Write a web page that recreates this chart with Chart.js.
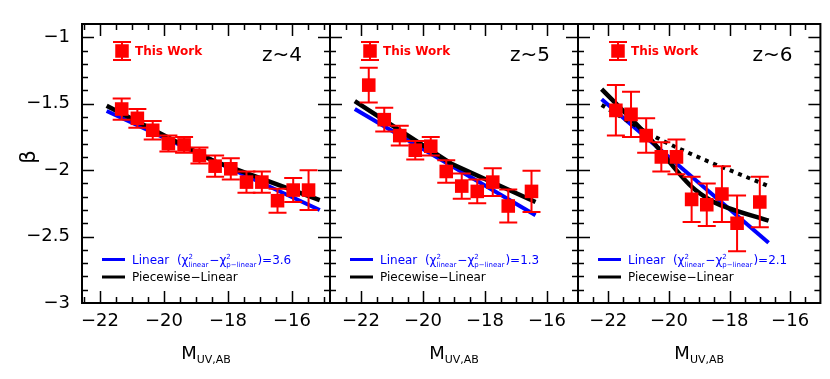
<!DOCTYPE html>
<html>
<head>
<meta charset="utf-8">
<script src="https://cdn.jsdelivr.net/npm/chart.js@4.4.1/dist/chart.umd.min.js"></script>
<style>
html,body{margin:0;padding:0;background:#ffffff;overflow:hidden;}
#wrap{position:relative;width:830px;height:379px;background:#ffffff;}
#wrap canvas{position:absolute;left:0;top:0;width:830px;height:379px;}
</style>
</head>
<body>
<div id="wrap">
<canvas id="p0" width="830" height="379"></canvas>
<canvas id="p1" width="830" height="379"></canvas>
<canvas id="p2" width="830" height="379"></canvas>
</div>
<script>
// ---------- data ----------
const panelLabels = ['z~4', 'z~5', 'z~6'];
const chi2Diff = ['3.6', '1.3', '2.1'];
const xTickLabels = [-22, -20, -18, -16];
const yTickLabels = [-3, -2.5, -2, -1.5, -1];
const xMin = [-22.56, -23, -23];
const xMax = [-14.81, -15, -15];

const z4_M    = [-21.32,-20.83,-20.35,-19.86,-19.37,-18.89,-18.40,-17.91,-17.42,-16.94,-16.45,-15.96,-15.48];
const z4_beta = [-1.54,-1.61,-1.70,-1.80,-1.81,-1.89,-1.97,-1.99,-2.09,-2.09,-2.23,-2.15,-2.15];
const z4_err  = [0.08,0.07,0.07,0.06,0.06,0.06,0.08,0.08,0.08,0.08,0.09,0.09,0.15];

const z5_M    = [-21.75,-21.25,-20.75,-20.25,-19.75,-19.25,-18.75,-18.25,-17.75,-17.25,-16.5];
const z5_beta = [-1.36,-1.62,-1.74,-1.85,-1.82,-2.01,-2.12,-2.16,-2.09,-2.27,-2.16];
const z5_err  = [0.13,0.09,0.075,0.07,0.07,0.085,0.095,0.09,0.105,0.125,0.155];

const z6_M    = [-21.75,-21.25,-20.75,-20.25,-19.75,-19.25,-18.75,-18.25,-17.75,-17.0];
const z6_beta = [-1.55,-1.58,-1.74,-1.90,-1.90,-2.22,-2.26,-2.18,-2.40,-2.24];
const z6_err  = [0.19,0.17,0.13,0.11,0.13,0.17,0.16,0.21,0.21,0.19];

// linear fits
const z4_linM = [-21.79, -15.13]; const z4_linB = [-1.555, -2.30];
const z5_linM = [-22.2, -16.37];  const z5_linB = [-1.54, -2.34];
const z6_linM = [-22.22, -16.71]; const z6_linB = [-1.466, -2.546];
// piecewise-linear fits
const z4_pwM = [-21.79, -18.46, -15.13]; const z4_pwB = [-1.515, -1.93, -2.225];
const z5_pwM = [-22.2, -19.1, -16.37];   const z5_pwB = [-1.48, -1.95, -2.24];
const z6_pwM = [-22.22, -20.67, -19.27, -18.6, -18.1, -16.71];
const z6_pwB = [-1.39, -1.75, -2.12, -2.23, -2.28, -2.38];
// dotted curve (z~6)
const z6_dotM = [-22.22, -20.45, -18.85, -17.78, -16.71];
const z6_dotB = [-1.51, -1.75, -1.92, -2.02, -2.12];

// ---------- setup ----------
const FONT = '"DejaVu Sans", sans-serif';
const RED = '#ff0000', BLUE = '#0000ff', BLACK = '#000000';
const PL = [82, 330, 578], PR = [330, 578, 824];
const TOP = 24, XAXIS_H = 76;

const panels = [
  {label: panelLabels[0], chi: chi2Diff[0], M: z4_M, B: z4_beta, E: z4_err, linM: z4_linM, linB: z4_linB, pwM: z4_pwM, pwB: z4_pwB},
  {label: panelLabels[1], chi: chi2Diff[1], M: z5_M, B: z5_beta, E: z5_err, linM: z5_linM, linB: z5_linB, pwM: z5_pwM, pwB: z5_pwB},
  {label: panelLabels[2], chi: chi2Diff[2], M: z6_M, B: z6_beta, E: z6_err, linM: z6_linM, linB: z6_linB, pwM: z6_pwM, pwB: z6_pwB, dotM: z6_dotM, dotB: z6_dotB}
];

const xy = (xs, ys) => xs.map((x, i) => ({x: x, y: ys[i]}));
const fmt = v => (v < 0 ? '\u2212' : '') + String(Math.abs(v));

function richText(ctx, parts, x, y, color) {
  let cx = x;
  ctx.fillStyle = color;
  ctx.textAlign = 'left';
  ctx.textBaseline = 'alphabetic';
  for (const p of parts) {
    if (p.sup !== undefined) {
      ctx.font = p.s + 'px ' + FONT;
      const w1 = ctx.measureText(p.sup).width;
      const w2 = ctx.measureText(p.sub).width;
      ctx.fillText(p.sup, cx, y - 5);
      ctx.fillText(p.sub, cx, y + 3);
      cx += Math.max(w1, w2) + 1;
    } else {
      ctx.font = (p.b ? 'bold ' : '') + p.s + 'px ' + FONT;
      ctx.fillText(p.t, cx, y + (p.dy || 0));
      cx += ctx.measureText(p.t).width;
    }
  }
  return cx;
}

function decor(p) {
  const P = panels[p];
  return {
    id: 'decor' + p,
    afterDatasetsDraw(chart) {
      const ctx = chart.ctx, xs = chart.scales.x, ys = chart.scales.y, a = chart.chartArea;
      ctx.save();
      // error bars
      ctx.strokeStyle = RED; ctx.lineWidth = 2;
      P.M.forEach((m, i) => {
        const x = xs.getPixelForValue(m);
        const yt = ys.getPixelForValue(P.B[i] + P.E[i]);
        const yb = ys.getPixelForValue(P.B[i] - P.E[i]);
        ctx.beginPath();
        ctx.moveTo(x, yt); ctx.lineTo(x, yb);
        ctx.moveTo(x - 9, yt); ctx.lineTo(x + 9, yt);
        ctx.moveTo(x - 9, yb); ctx.lineTo(x + 9, yb);
        ctx.stroke();
      });
      // frame
      ctx.strokeStyle = BLACK; ctx.lineWidth = 2;
      ctx.strokeRect(a.left, a.top, a.right - a.left, a.bottom - a.top);
      // ticks (inward, all four sides)
      ctx.lineWidth = 1.5;
      ctx.beginPath();
      const k0 = Math.ceil(xs.min * 2), k1 = Math.floor(xs.max * 2);
      for (let k = k0; k <= k1; k++) {
        const v = k / 2;
        if (v <= xs.min + 0.05 || v >= xs.max - 0.05) continue;
        const len = xTickLabels.includes(v) ? 12 : 6;
        const x = Math.round(xs.getPixelForValue(v)) + 0.5;
        ctx.moveTo(x, a.bottom); ctx.lineTo(x, a.bottom - len);
        ctx.moveTo(x, a.top); ctx.lineTo(x, a.top + len);
      }
      for (let k = 0; k <= 21; k++) {
        const v = Math.round((ys.min + k * 0.1) * 10) / 10;
        if (v <= ys.min || v >= ys.max) continue;
        const len = yTickLabels.includes(v) ? 12 : 6;
        const y = Math.round(ys.getPixelForValue(v)) + 0.5;
        ctx.moveTo(a.left, y); ctx.lineTo(a.left + len, y);
        ctx.moveTo(a.right, y); ctx.lineTo(a.right - len, y);
      }
      ctx.stroke();
      ctx.restore();
    },
    afterDraw(chart) {
      const ctx = chart.ctx, a = chart.chartArea;
      ctx.save();
      // redshift label
      ctx.font = '20px ' + FONT;
      ctx.fillStyle = BLACK; ctx.textAlign = 'right'; ctx.textBaseline = 'alphabetic';
      ctx.fillText(P.label, a.right - 28, 61);
      // "This Work" legend
      const mx = a.left + 40, my = 51;
      ctx.strokeStyle = RED; ctx.lineWidth = 2; ctx.fillStyle = RED;
      ctx.beginPath();
      ctx.moveTo(mx, 42); ctx.lineTo(mx, 60);
      ctx.moveTo(mx - 9, 42); ctx.lineTo(mx + 9, 42);
      ctx.moveTo(mx - 9, 60); ctx.lineTo(mx + 9, 60);
      ctx.stroke();
      ctx.fillRect(mx - 6.75, my - 6.75, 13.5, 13.5);
      ctx.font = 'bold 12px ' + FONT; ctx.textAlign = 'left';
      ctx.fillText('This Work', a.left + 53, 55);
      // bottom legend
      ctx.lineWidth = 3;
      ctx.strokeStyle = BLUE;
      ctx.beginPath(); ctx.moveTo(a.left + 20, 259.5); ctx.lineTo(a.left + 43, 259.5); ctx.stroke();
      ctx.strokeStyle = BLACK;
      ctx.beginPath(); ctx.moveTo(a.left + 20, 277); ctx.lineTo(a.left + 43, 277); ctx.stroke();
      richText(ctx, [
        {t: 'Linear  (\u03c7', s: 12},
        {sup: '2', sub: 'linear', s: 7},
        {t: '\u2212\u03c7', s: 12},
        {sup: '2', sub: 'p\u2212linear', s: 7},
        {t: ')=' + P.chi, s: 12}
      ], a.left + 50, 264, BLUE);
      richText(ctx, [{t: 'Piecewise\u2212Linear', s: 12}], a.left + 50, 281, BLACK);
      // x axis title
      ctx.font = '18px ' + FONT;
      const wM = ctx.measureText('M').width;
      ctx.font = '11px ' + FONT;
      const wS = ctx.measureText('UV,AB').width;
      const cx = (a.left + a.right) / 2 - (wM + wS) / 2;
      richText(ctx, [{t: 'M', s: 18}, {t: 'UV,AB', s: 11, dy: 4}], cx, 359, BLACK);
      // y axis title
      if (p === 0) {
        ctx.save();
        ctx.translate(30, 157);
        ctx.rotate(-Math.PI / 2);
        ctx.font = '21px ' + FONT;
        ctx.fillStyle = BLACK; ctx.textAlign = 'center'; ctx.textBaseline = 'middle';
        ctx.fillText('\u03b2', 0, 0);
        ctx.restore();
      }
      ctx.restore();
    }
  };
}

function buildChart(p) {
  const P = panels[p];
  const datasets = [
    {type: 'line', label: 'Linear', data: xy(P.linM, P.linB), borderColor: BLUE, borderWidth: 4,
     pointRadius: 0, fill: false, order: 4, borderCapStyle: 'butt'}
  ];
  if (P.dotM) {
    datasets.push({type: 'line', label: 'dotted', data: xy(P.dotM, P.dotB), borderColor: BLACK, borderWidth: 4,
      borderDash: [4, 5], pointRadius: 0, fill: false, order: 3, cubicInterpolationMode: 'monotone'});
  }
  datasets.push({type: 'line', label: 'Piecewise-Linear', data: xy(P.pwM, P.pwB), borderColor: BLACK, borderWidth: 4.5,
    pointRadius: 0, fill: false, order: 2, cubicInterpolationMode: p === 2 ? 'monotone' : 'default'});
  datasets.push({type: 'scatter', label: 'This Work', data: xy(P.M, P.B), pointStyle: 'rect', pointRadius: 9.6,
    backgroundColor: RED, borderColor: RED, borderWidth: 0, order: 1});

  return new Chart(document.getElementById('p' + p), {
    type: 'scatter',
    data: {datasets: datasets},
    options: {
      responsive: false, animation: false, devicePixelRatio: 1,
      events: [],
      plugins: {legend: {display: false}, tooltip: {enabled: false}},
      layout: {padding: {left: 0, right: 830 - PR[p], top: TOP, bottom: 0}},
      scales: {
        x: {
          type: 'linear', position: 'bottom', min: xMin[p], max: xMax[p],
          afterBuildTicks: s => { s.ticks = xTickLabels.map(v => ({value: v})); },
          afterFit: s => { s.height = XAXIS_H; },
          grid: {display: false, drawTicks: false}, border: {display: false},
          ticks: {font: {family: 'DejaVu Sans', size: 18}, color: BLACK, padding: 8, maxRotation: 0,
                  autoSkip: false, callback: v => fmt(v)}
        },
        y: {
          type: 'linear', position: 'left', min: -3, max: -0.9,
          afterBuildTicks: s => { s.ticks = yTickLabels.map(v => ({value: v})); },
          afterFit: s => { s.width = PL[p]; },
          grid: {display: false, drawTicks: false}, border: {display: false},
          ticks: {display: p === 0, font: {family: 'DejaVu Sans', size: 18}, color: BLACK, padding: 12,
                  callback: v => fmt(v)}
        }
      }
    },
    plugins: [decor(p)]
  });
}

[0, 1, 2].forEach(buildChart);
</script>
</body>
</html>
